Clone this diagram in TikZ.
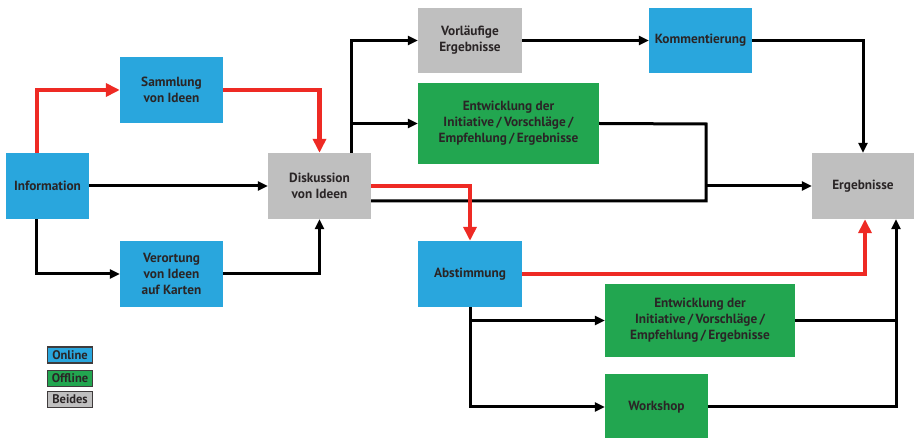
\documentclass[tikz,border=0pt]{standalone}
\usepackage{fontspec}
\setmainfont{PT Sans}
\usetikzlibrary{arrows.meta}
\definecolor{cblue}{HTML}{29A6DD}
\definecolor{cgreen}{HTML}{22A650}
\definecolor{cgray}{HTML}{BFBFBF}
\definecolor{cred}{HTML}{EE2A24}
\definecolor{ctext}{HTML}{2A2526}
\begin{document}
\begin{tikzpicture}[x=1pt,y=-1pt,
  box/.style={rectangle,inner sep=0pt,align=center,text=ctext,
    font=\fontsize{13.3}{16}\selectfont\bfseries,minimum width=103,minimum height=66},
  legbox/.style={rectangle,inner sep=0pt,text=ctext,draw=ctext!90,line width=1.3pt,
    font=\fontsize{12.5}{13}\selectfont\bfseries,minimum width=45,minimum height=16},
  blk/.style={line width=3pt,black,line join=miter},
  blkarr/.style={blk,-{Triangle[length=10pt,width=9pt]}},
  redl/.style={line width=4.2pt,cred,line join=miter},
  redarr/.style={redl,-{Triangle[length=14pt,width=13pt]}}]
\useasboundingbox (0,0) rectangle (914,438);
% nodes
\node[box,fill=cblue,minimum width=83] (info) at (47.5,186) {Information};
\node[box,fill=cblue] (samm) at (171.5,90) {Sammlung\\von Ideen};
\node[box,fill=cblue] (vero) at (171.5,274) {Verortung\\von Ideen\\auf Karten};
\node[box,fill=cgray] (disk) at (319.5,186) {Diskussion\\von Ideen};
\node[box,fill=cgray,minimum width=104,minimum height=65] (vorl) at (470,40.5) {Vorläufige\\Ergebnisse};
\node[box,fill=cblue,minimum height=65] (komm) at (700.5,40.5) {Kommentierung};
\node[box,fill=cgreen,minimum width=181,minimum height=81] (entwa) at (508.5,123.5) {Entwicklung der\\Initiative\,/\,Vorschläge\,/\\Empfehlung\,/\,Ergebnisse};
\node[box,fill=cgray,minimum width=102] (erg) at (863,186) {Ergebnisse};
\node[box,fill=cblue,minimum width=104] (abst) at (470,274) {Abstimmung};
\node[box,fill=cgreen,minimum width=190,minimum height=73] (entwb) at (700,320.5) {Entwicklung der\\Initiative\,/\,Vorschläge\,/\\Empfehlung\,/\,Ergebnisse};
\node[box,fill=cgreen] (work) at (656.5,407) {Workshop};
\node[legbox,fill=cblue] (lon) at (70,355) {Online};
\node[legbox,fill=cgreen] (loff) at (70,378.5) {Offline};
\node[legbox,fill=cgray] (lbei) at (70,399.5) {Beides};
% junction coordinates
\coordinate (jt) at (706,124);
\coordinate (jb) at (706,201);
\coordinate (ergin) at ([xshift=33]erg.south);
\coordinate (ergred) at ([xshift=2]erg.south);
% black connectors
\draw[blkarr] (info.east) -- (disk.west);
\draw[blkarr] ([xshift=31]info.south west) |- (vero.west);
\draw[blkarr] (vero.east) -| (disk.south);
\draw[blkarr] ([xshift=84]disk.north west) |- (vorl.west);
\draw[blkarr] ([xshift=84]disk.north west) |- (entwa.west);
\draw[blkarr] (vorl.east) -- (komm.west);
\draw[blkarr] (komm.east) -| (erg.north);
\draw[blk] (entwa.east) -- (jt) -- (jb) -- (disk.east |- jb);
\draw[blkarr] (jt |- erg.west) -- (erg.west);
\draw[blkarr] (abst.south) |- (work.west);
\draw[blkarr] (abst.south) |- (entwb.west);
\draw[blk] (entwb.east) -- (entwb.east -| ergin);
\draw[blkarr] (work.east) -| (ergin);
% red connectors
\draw[redarr] ([xshift=31]info.north west) |- (samm.west);
\draw[redarr] (samm.east) -| (disk.north);
\draw[redarr] (disk.east) -| (abst.north);
\draw[redarr] (abst.east) -| (ergred);
\end{tikzpicture}
\end{document}
